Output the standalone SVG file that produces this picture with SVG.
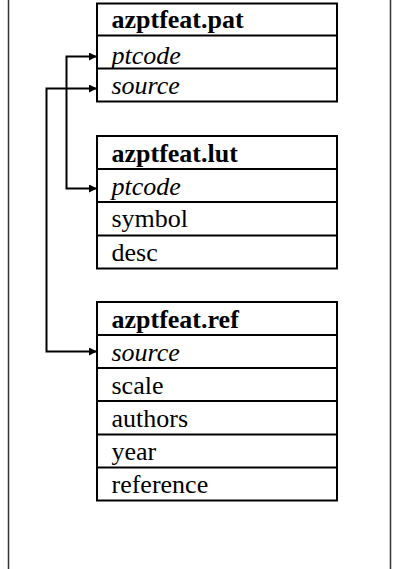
<svg xmlns="http://www.w3.org/2000/svg" width="393" height="569" viewBox="0 0 393 569">
<style>
  .frame { stroke: #333; stroke-width: 1.5; fill: none; }
  .box { fill: #fff; stroke: #000; stroke-width: 2; }
  .div { stroke: #000; stroke-width: 2; }
  text { font-family: 'Liberation Serif', 'Times New Roman', serif; font-size: 26px; fill: #000; }
  .h { font-weight: bold; }
  .i { font-style: italic; }
  .conn { fill: none; stroke: #000; stroke-width: 2; }
</style>
<defs>
  <marker id="arr" markerUnits="userSpaceOnUse" markerWidth="9" markerHeight="9" refX="8" refY="4" orient="auto-start-reverse">
    <path d="M0,0 L8,4 L0,8 z" fill="#000"/>
  </marker>
</defs>
<rect width="393" height="569" fill="#fff"/>
<line class="frame" x1="8.5" y1="0" x2="8.5" y2="569"/>
<line class="frame" x1="390.5" y1="0" x2="390.5" y2="569"/>

<g id="pat">
  <rect class="box" x="97" y="3.5" width="240" height="98"/>
  <line class="div" x1="97" y1="35.5" x2="337" y2="35.5"/>
  <line class="div" x1="97" y1="68.5" x2="337" y2="68.5"/>
  <text class="h" x="111.5" y="28">azptfeat.pat</text>
  <text class="i" x="111.5" y="63.5">ptcode</text>
  <text class="i" x="111.5" y="93.5">source</text>
</g>

<g id="lut">
  <rect class="box" x="97" y="136" width="240" height="132.5"/>
  <line class="div" x1="97" y1="169" x2="337" y2="169"/>
  <line class="div" x1="97" y1="202" x2="337" y2="202"/>
  <line class="div" x1="97" y1="235.5" x2="337" y2="235.5"/>
  <text class="h" x="111.5" y="162">azptfeat.lut</text>
  <text class="i" x="111.5" y="195">ptcode</text>
  <text x="111.5" y="227">symbol</text>
  <text x="111.5" y="260.5">desc</text>
</g>

<g id="ref">
  <rect class="box" x="97" y="302" width="240" height="198.5"/>
  <line class="div" x1="97" y1="335" x2="337" y2="335"/>
  <line class="div" x1="97" y1="368" x2="337" y2="368"/>
  <line class="div" x1="97" y1="401" x2="337" y2="401"/>
  <line class="div" x1="97" y1="434.5" x2="337" y2="434.5"/>
  <line class="div" x1="97" y1="467.5" x2="337" y2="467.5"/>
  <text class="h" x="111.5" y="327.5">azptfeat.ref</text>
  <text class="i" x="111.5" y="360.5">source</text>
  <text x="111.5" y="393.5">scale</text>
  <text x="111.5" y="426.5">authors</text>
  <text x="111.5" y="460">year</text>
  <text x="111.5" y="493">reference</text>
</g>

<g id="connectors">
  <path class="conn" d="M97,56.5 H66.5 V188.5 H97" marker-start="url(#arr)" marker-end="url(#arr)"/>
  <path class="conn" d="M97,88.5 H46.5 V351.5 H97" marker-start="url(#arr)" marker-end="url(#arr)"/>
</g>
</svg>
